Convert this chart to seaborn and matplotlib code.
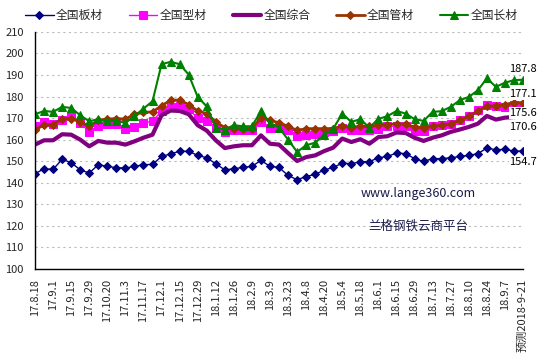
import numpy as np
import pandas as pd
import matplotlib
matplotlib.use("Agg")
import matplotlib.pyplot as plt
import seaborn as sns

sns.set_style("white")
plt.rcParams['font.family'] = ['Noto Sans CJK SC', 'DejaVu Sans']

tick_labels = ["17.8.18", "17.9.1", "17.9.15", "17.9.29", "17.10.20", "17.11.3", "17.11.17",
               "17.12.1", "17.12.15", "17.12.29", "18.1.12", "18.1.26", "18.2.9", "18.3.9",
               "18.3.23", "18.4.8", "18.4.20", "18.5.4", "18.5.18", "18.6.1", "18.6.15",
               "18.6.29", "18.7.13", "18.7.27", "18.8.10", "18.8.24", "18.9.7", "预测2018-9-21"]

banc = [144.2, 146.5, 146.2, 150.9, 149.3, 146.0, 144.5, 148.4, 147.6, 147.0, 146.8, 147.6, 148.4, 148.5,
        152.2, 153.4, 154.6, 154.6, 152.7, 151.6, 148.8, 146.0, 146.5, 147.1, 147.6, 150.4, 147.6, 147.1,
        143.4, 141.4, 142.9, 143.9, 145.9, 147.1, 149.1, 148.8, 149.8, 149.8, 151.6, 152.2, 153.8, 153.5,
        151.2, 149.9, 151.2, 151.2, 151.6, 152.2, 152.7, 153.5, 156.1, 155.3, 155.5, 154.7, 154.7]
xingc = [166.2, 168.2, 167.1, 169.0, 170.9, 167.8, 163.6, 166.2, 167.1, 167.1, 165.1, 165.9, 167.8, 168.5,
         173.3, 175.2, 175.7, 174.0, 170.1, 168.7, 165.6, 163.6, 164.3, 164.7, 164.7, 168.2, 165.4, 165.6,
         164.7, 161.6, 162.3, 162.8, 163.6, 163.9, 165.6, 164.3, 164.7, 164.3, 165.1, 166.2, 166.2, 166.2,
         164.0, 164.0, 166.2, 166.7, 167.4, 169.0, 170.9, 173.6, 176.0, 175.5, 175.2, 176.0, 175.6]
zonghe = [157.7, 159.7, 159.7, 162.5, 162.3, 160.0, 156.9, 159.4, 158.6, 158.6, 157.7, 159.2, 160.9, 162.3,
          171.3, 173.5, 173.3, 171.8, 166.7, 164.2, 159.7, 156.1, 156.9, 157.4, 157.4, 162.0, 158.1, 157.7,
          153.8, 150.1, 151.9, 152.7, 154.7, 156.3, 160.5, 158.9, 160.2, 158.1, 161.2, 161.6, 163.3, 163.1,
          160.9, 159.4, 160.9, 162.0, 163.6, 164.7, 165.9, 167.4, 171.0, 169.3, 170.2, 170.5, 170.6]
guanc = [164.7, 166.7, 167.0, 169.8, 169.8, 168.2, 166.2, 169.0, 169.5, 169.8, 169.5, 171.8, 172.6, 172.9,
         175.7, 178.3, 178.3, 176.3, 173.3, 172.1, 168.2, 165.6, 165.1, 165.1, 165.1, 170.2, 169.0, 167.8,
         166.2, 164.3, 165.1, 165.1, 165.1, 165.1, 166.4, 165.6, 166.2, 166.2, 166.7, 167.0, 167.4, 167.1,
         165.9, 165.6, 166.2, 166.7, 167.4, 169.0, 170.9, 173.2, 175.5, 175.7, 176.3, 177.2, 177.1]
changc = [171.8, 173.3, 172.9, 175.2, 174.7, 171.3, 168.5, 169.5, 168.5, 168.7, 167.8, 170.9, 174.4, 177.8,
          195.0, 196.1, 195.0, 190.2, 179.8, 175.4, 165.6, 164.7, 166.7, 166.2, 166.2, 173.3, 167.8, 165.6,
          160.0, 154.3, 157.4, 158.6, 162.3, 165.1, 172.1, 168.2, 169.5, 165.6, 169.6, 170.9, 173.3, 172.1,
          169.5, 168.7, 172.9, 173.2, 175.2, 178.3, 179.8, 182.9, 188.4, 184.5, 186.4, 187.6, 187.8]

names = ["全国板材", "全国型材", "全国综合", "全国管材", "全国长材"]
series = [banc, xingc, zonghe, guanc, changc]
colors = ["#000080", "#FF00FF", "#800080", "#993300", "#008000"]
markers = ["D", "s", None, "D", "^"]
msizes = [4.5, 5.5, 0, 4, 6]
lwidths = [1, 1, 3, 2, 1.5]
label_offsets = [-8, -5, -7, 6, 8]

x = np.arange(len(banc))

fig = plt.figure(figsize=(5.43, 3.61), dpi=100)
ax = fig.add_axes([0.0645, 0.2548, 0.8987, 0.657])

for name, vals, c, m, ms, lw in zip(names, series, colors, markers, msizes, lwidths):
    sns.lineplot(x=x, y=vals, ax=ax, color=c, marker=m, markersize=ms, linewidth=lw,
                 markeredgecolor=c, label=name)

# value labels at the last point
for vals, off in zip(series, label_offsets):
    ax.annotate(f"{vals[-1]:.1f}", (x[-1], vals[-1]), xytext=(0, off), textcoords="offset points",
                ha="center", va="center", fontsize=8, color="black",
                bbox=dict(boxstyle="square,pad=0.05", fc="white", ec="none"))

ax.set_xlim(0, len(banc) - 1)
ax.set_ylim(100, 210)
ax.set_yticks(np.arange(100, 211, 10))
ax.set_xticks(np.arange(0, len(banc), 2))
ax.set_xticklabels(tick_labels, rotation=90, fontsize=8)
ax.tick_params(axis="y", labelsize=8, direction="in", length=0, pad=8)
ax.tick_params(axis="x", direction="in", length=3, pad=7, color="black")
ax.yaxis.grid(True, linestyle=(0, (2, 3)), color="#bbbbbb", linewidth=0.8)
ax.set_axisbelow(True)
for s in ["top", "right"]:
    ax.spines[s].set_visible(False)
for s in ["left", "bottom"]:
    ax.spines[s].set_color("black")
    ax.spines[s].set_linewidth(1)

ax.get_legend().remove()
handles, labels = ax.get_legend_handles_labels()
fig.legend(handles, labels, loc="center", bbox_to_anchor=(0.5, 0.958), ncol=5, frameon=False,
           fontsize=8.5, handlelength=2.4, handletextpad=0.2, columnspacing=2.2)

ax.text(0.785, 0.32, "www.lange360.com", transform=ax.transAxes, ha="center", va="center",
        fontsize=9, color="#1a1a4a")
ax.text(0.785, 0.18, "兰格钢铁云商平台", transform=ax.transAxes, ha="center", va="center",
        fontsize=9, color="#1a1a4a")

fig.savefig("out.png", dpi=100)
